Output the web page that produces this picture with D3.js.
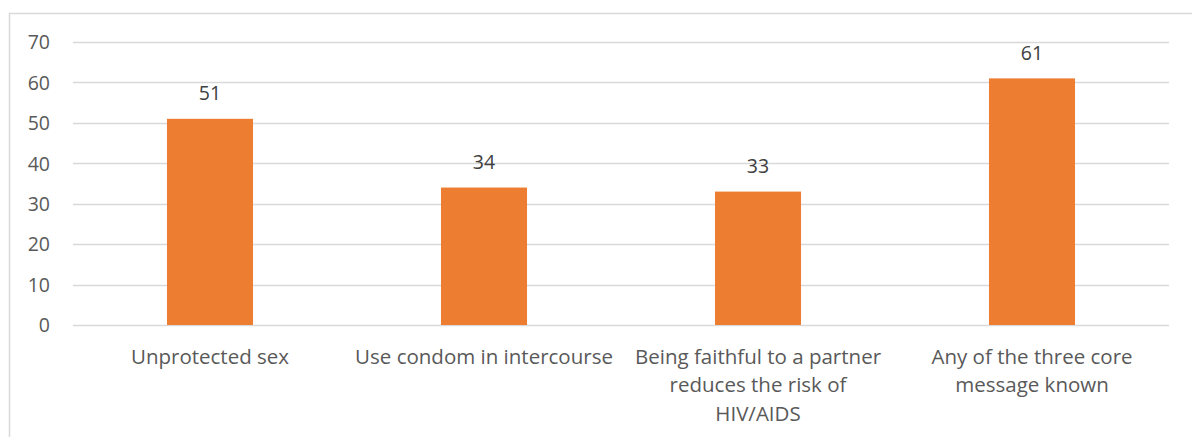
<!DOCTYPE html>
<html>
<head>
<meta charset="utf-8">
<script src="https://cdn.jsdelivr.net/npm/d3@7"></script>
<style>
  html, body { margin: 0; padding: 0; background: #fff; }
  svg { display: block; }
  text { font-family: "Open Sans", "Liberation Sans", sans-serif; }
</style>
</head>
<body>
<svg id="chart" width="1192" height="437"></svg>
<script>
// Awareness of HIV prevention messages (%)
const categories = [
  "Unprotected sex",
  "Use condom in intercourse",
  "Being faithful to a partner\nreduces the risk of\nHIV/AIDS",
  "Any of the three core\nmessage known"
];
const values = [51, 34, 33, 61];
const yTicks = [0, 10, 20, 30, 40, 50, 60, 70];

const svg = d3.select("#chart");
const W = 1192, H = 437;
const plot = { left: 73, right: 1169, top: 42, bottom: 325 };

// outer frame of the chart area
svg.append("rect")
  .attr("x", 9.5).attr("y", 13.5)
  .attr("width", W + 20).attr("height", H + 20)
  .attr("fill", "none").attr("stroke", "#d9d9d9").attr("stroke-width", 1.5);

const x = d3.scaleBand()
  .domain(categories)
  .range([plot.left, plot.right])
  .paddingInner(0.686)
  .paddingOuter(0.343);

const y = d3.scaleLinear()
  .domain([0, 70])
  .range([plot.bottom, plot.top]);

// horizontal gridlines
svg.append("g")
  .selectAll("line")
  .data(yTicks)
  .join("line")
  .attr("x1", plot.left).attr("x2", plot.right)
  .attr("y1", d => Math.round(y(d)) + 0.5)
  .attr("y2", d => Math.round(y(d)) + 0.5)
  .attr("stroke", "#d9d9d9").attr("stroke-width", 1.5);

// y axis labels
const yAxis = d3.axisLeft(y).tickValues(yTicks).tickSize(0).tickPadding(0);
const gy = svg.append("g")
  .attr("transform", `translate(50,0)`)
  .call(yAxis);
gy.select(".domain").remove();
gy.selectAll("text")
  .attr("fill", "#595959")
  .style("font-size", "19.5px")
  .attr("dy", "0.35em");

// bars
svg.append("g")
  .selectAll("rect")
  .data(values)
  .join("rect")
  .attr("x", (d, i) => x(categories[i]))
  .attr("width", x.bandwidth())
  .attr("y", d => y(d))
  .attr("height", d => y(0) - y(d))
  .attr("fill", "#ed7d31");

// value labels above bars
svg.append("g")
  .selectAll("text")
  .data(values)
  .join("text")
  .attr("x", (d, i) => x(categories[i]) + x.bandwidth() / 2)
  .attr("y", d => y(d) - 18.5)
  .attr("text-anchor", "middle")
  .attr("fill", "#404040")
  .style("font-size", "19.5px")
  .text(d => d);

// category labels, wrapped
const xAxis = d3.axisBottom(x).tickSize(0).tickPadding(0);
const gx = svg.append("g")
  .attr("transform", `translate(0,${plot.bottom})`)
  .call(xAxis);
gx.select(".domain").remove();
gx.selectAll("text").each(function(d) {
  const t = d3.select(this);
  t.text(null)
    .attr("y", 0)
    .attr("dy", null)
    .attr("fill", "#595959")
    .style("font-size", "20.5px");
  d.split("\n").forEach((line, i) => {
    t.append("tspan")
      .attr("x", 0)
      .attr("y", 38.5 + i * 28.5)
      .text(line);
  });
});
</script>
</body>
</html>
